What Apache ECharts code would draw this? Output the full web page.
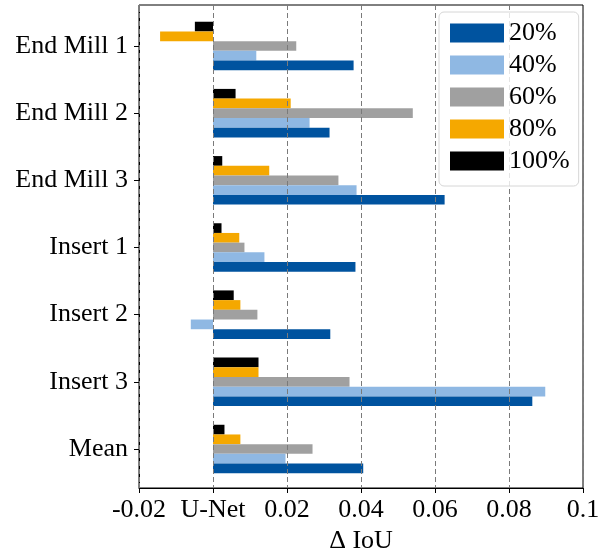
<!DOCTYPE html>
<html lang="en">
<head>
  <meta charset="UTF-8">
  <title>Delta IoU</title>
  <style>
    html, body { margin: 0; padding: 0; background: #fff; }
    #main { width: 610px; height: 550px; }
  </style>
</head>
<body>
<div id="main"></div>
<script src="https://cdn.jsdelivr.net/npm/echarts@6/dist/echarts.min.js"></script>
<script>
  var categories = ['End Mill 1', 'End Mill 2', 'End Mill 3', 'Insert 1', 'Insert 2', 'Insert 3', 'Mean'];
  var seriesNames = ['20%', '40%', '60%', '80%', '100%'];
  var p20 = [0.0380, 0.0315, 0.0626, 0.0385, 0.0317, 0.0863, 0.0406];
  var p40 = [0.0117, 0.0261, 0.0388, 0.0139, -0.0060, 0.0898, 0.0196];
  var p60 = [0.0225, 0.0540, 0.0339, 0.0085, 0.0120, 0.0369, 0.0269];
  var p80 = [-0.0143, 0.0210, 0.0152, 0.0071, 0.0074, 0.0123, 0.0074];
  var p100 = [-0.0049, 0.0061, 0.0025, 0.0023, 0.0056, 0.0123, 0.0031];
  var values = [p20, p40, p60, p80, p100];

  var colors = ['#00539f', '#8fb8e3', '#a0a0a0', '#f5a800', '#000000'];
  var font = 'Liberation Serif';

  var chart = echarts.init(document.getElementById('main'));

  // 100% on top of each group, 20% at the bottom
  var series = [];
  for (var i = seriesNames.length - 1; i >= 0; i--) {
    series.push({
      name: seriesNames[i],
      type: 'bar',
      xAxisIndex: 1,
      yAxisIndex: 1,
      barWidth: 9.7,
      barGap: '0%',
      itemStyle: { color: colors[i] },
      data: values[i]
    });
  }

  var option = {
    backgroundColor: '#fff',
    animation: false,
    textStyle: { fontFamily: font, color: '#000' },
    legend: {
      data: seriesNames,
      orient: 'vertical',
      left: 439,
      top: 12,
      itemWidth: 54,
      itemHeight: 19,
      itemGap: 6,
      icon: 'rect',
      padding: [8, 9, 12, 11],
      backgroundColor: 'rgba(255,255,255,0.8)',
      borderColor: '#d6d6d6',
      borderWidth: 1,
      borderRadius: 5,
      textStyle: { fontFamily: font, fontSize: 26, color: '#000' }
    },
    grid: [
      // outer frame with the x axis and dashed grid lines
      { left: 139, right: 27, top: 5, bottom: 62, outerBoundsMode: 'none', containLabel: false, show: true, borderColor: '#000', borderWidth: 1, backgroundColor: 'transparent' },
      // category bands sit a little inside the frame
      { left: 139, right: 27, top: 12.4, bottom: 67.4, outerBoundsMode: 'none', containLabel: false }
    ],
    xAxis: [
      {
        gridIndex: 0,
        type: 'value',
        min: -0.02,
        max: 0.1,
        interval: 0.02,
        z: 3,
        name: 'Δ IoU',
        nameLocation: 'middle',
        nameGap: 37,
        nameTextStyle: { fontFamily: font, fontSize: 26, color: '#000' },
        axisLine: { show: true, onZero: false, lineStyle: { color: '#000', width: 1 } },
        axisTick: { show: true, length: 5, lineStyle: { color: '#000' } },
        axisLabel: {
          margin: 9,
          fontFamily: font,
          fontSize: 26,
          color: '#000',
          showMinLabel: true,
          showMaxLabel: true,
          formatter: function (v) {
            var r = parseFloat(v.toFixed(2));
            return r === 0 ? 'U-Net' : String(r);
          }
        },
        splitLine: { show: true, lineStyle: { color: '#7a7a7a', type: [5, 3], width: 1 } }
      },
      { gridIndex: 1, type: 'value', min: -0.02, max: 0.1, show: false }
    ],
    yAxis: [
      { gridIndex: 0, type: 'value', show: false },
      {
        gridIndex: 1,
        type: 'category',
        inverse: true,
        data: categories,
        axisLine: { show: true, onZero: false, lineStyle: { color: '#000' } },
        axisTick: { show: true, alignWithLabel: true, length: 5, lineStyle: { color: '#000' } },
        axisLabel: { margin: 11, fontFamily: font, fontSize: 26, color: '#000' },
        splitLine: { show: false }
      }
    ],
    series: series
  };

  chart.setOption(option);
</script>
</body>
</html>
